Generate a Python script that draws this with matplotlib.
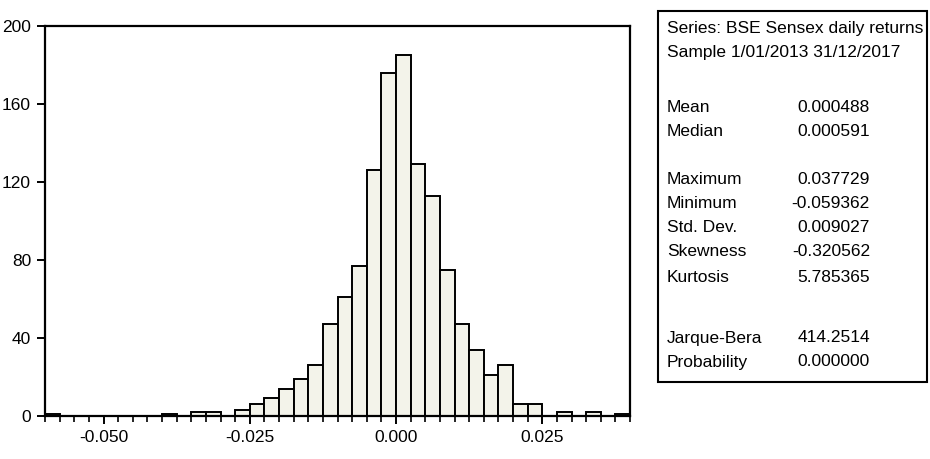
import matplotlib.pyplot as plt
from matplotlib.patches import Rectangle
from matplotlib.ticker import MultipleLocator

plt.rcParams["font.family"] = ["Liberation Sans", "DejaVu Sans"]

# histogram of BSE Sensex daily returns, bins of 0.0025 starting at -0.06
bin_start = -0.06
bin_width = 0.0025
counts = [1, 0, 0, 0, 0, 0, 0, 0, 1, 0,
          2, 2, 0, 3, 6, 9, 14, 19, 26, 47,
          61, 77, 126, 176, 185, 129, 113, 75, 47, 34,
          21, 26, 6, 6, 0, 2, 0, 2, 0, 1]

x_ticks = [-0.050, -0.025, 0.000, 0.025]
y_ticks = [0, 40, 80, 120, 160, 200]

series_name = "Series: BSE Sensex daily returns"
sample_text = "Sample 1/01/2013 31/12/2017"
stat_names = ["Mean", "Median", "Maximum", "Minimum", "Std. Dev.",
              "Skewness", "Kurtosis", "Jarque-Bera", "Probability"]
stat_values = ["0.000488", "0.000591", "0.037729", "-0.059362", "0.009027",
               "-0.320562", "5.785365", "414.2514", "0.000000"]

W, H = 930, 459
fig = plt.figure(figsize=(W / 100, H / 100), dpi=100)
ax = fig.add_axes([45 / W, 1 - 416 / H, (630 - 45) / W, (416 - 26) / H])

lefts = [bin_start + i * bin_width for i in range(len(counts))]
ax.bar(lefts, counts, width=bin_width, align="edge",
       color="#f3f3ea", edgecolor="black", linewidth=1.4)

ax.set_xlim(bin_start, bin_start + len(counts) * bin_width)
ax.set_ylim(0, 200)
ax.set_xticks(x_ticks)
ax.set_xticklabels(["%.3f" % v for v in x_ticks])
ax.xaxis.set_minor_locator(MultipleLocator(bin_width))
ax.set_yticks(y_ticks)
ax.tick_params(axis="both", which="major", direction="out", length=6,
               width=1.4, labelsize=12.5, pad=4)
ax.tick_params(axis="x", which="minor", direction="out", length=4, width=1.2)
for s in ax.spines.values():
    s.set_linewidth(1.6)

# statistics box on the right
box = Rectangle((658 / W, 1 - 382 / H), (927 - 658) / W, (382 - 11) / H,
                transform=fig.transFigure, fill=False, edgecolor="black",
                linewidth=1.5)
fig.add_artist(box)

fs = 12.5
fig.text(667 / W, 1 - 29 / H, series_name, fontsize=fs, va="center")
fig.text(667 / W, 1 - 53 / H, sample_text, fontsize=fs, va="center")

rows_y = [108, 131, 180, 204, 227, 252, 277, 338, 362]
for name, val, yy in zip(stat_names, stat_values, rows_y):
    fig.text(667 / W, 1 - yy / H, name, fontsize=fs, va="center")
    fig.text(870 / W, 1 - yy / H, val, fontsize=fs, va="center", ha="right")

fig.savefig("out.png", dpi=100)
